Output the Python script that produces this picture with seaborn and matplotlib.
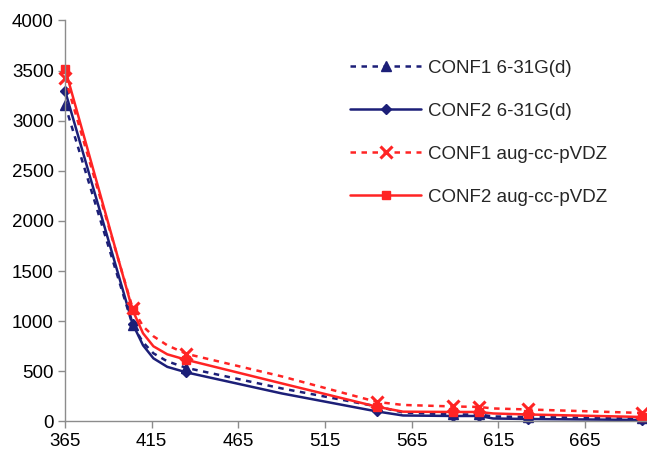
import matplotlib
matplotlib.use("Agg")
import matplotlib.pyplot as plt
import seaborn as sns
import pandas as pd

# Wavelength grid shared by all four curves (nm)
wavelength = [365, 404, 410, 416, 424, 435, 490, 545, 560, 589, 604, 612, 632, 698]
# Indices of the grid points that carry a marker
marked = [0, 1, 5, 7, 9, 10, 12, 13]

conf1_631g = [3160, 960, 790, 680, 600, 535, 330, 150, 90, 70, 70, 50, 45, 30]
conf2_631g = [3300, 975, 760, 630, 545, 490, 280, 100, 60, 55, 55, 30, 25, 15]
conf1_aug = [3430, 1130, 950, 850, 760, 675, 450, 195, 165, 150, 145, 130, 120, 85]
conf2_aug = [3520, 1110, 880, 750, 670, 615, 380, 147, 98, 95, 95, 80, 70, 45]

labels = ["CONF1 6-31G(d)", "CONF2 6-31G(d)", "CONF1 aug-cc-pVDZ", "CONF2 aug-cc-pVDZ"]
x_ticks = [365, 415, 465, 515, 565, 615, 665]
y_ticks = [0, 500, 1000, 1500, 2000, 2500, 3000, 3500, 4000]

navy = "#1C1F78"
red = "#FF2424"
dotted = (0, (2.2, 2.2))

sns.set_style("ticks")
plt.rcParams["font.family"] = ["Liberation Sans", "DejaVu Sans"]

fig = plt.figure(figsize=(6.47, 4.57), dpi=100)
ax = fig.add_axes([0.1005, 0.0777, 0.8975, 0.8775])

series = [
    (conf1_631g, navy, dotted, "^", 7.5, 1.0),
    (conf2_631g, navy, "-", "D", 5.5, 1.0),
    (conf1_aug, red, dotted, "x", 9, 2.2),
    (conf2_aug, red, "-", "s", 5.5, 1.0),
]
for (vals, col, ls, mk, ms, mew), lab in zip(series, labels):
    df = pd.DataFrame({"wavelength": wavelength, "value": vals})
    sns.lineplot(data=df, x="wavelength", y="value", ax=ax, color=col,
                 linestyle=ls, linewidth=1.8, marker=mk, markersize=ms,
                 markeredgewidth=mew, markeredgecolor=col, markerfacecolor=col,
                 markevery=marked, clip_on=False, label=lab, sort=False)

ax.set_xlim(365, 700)
ax.set_ylim(0, 4000)
ax.set_xticks(x_ticks)
ax.set_yticks(y_ticks)
ax.set_xlabel("")
ax.set_ylabel("")
for side in ["top", "right"]:
    ax.spines[side].set_visible(False)
for side in ["left", "bottom"]:
    ax.spines[side].set_color("#8C8C8C")
    ax.spines[side].set_linewidth(1.0)
ax.tick_params(axis="both", colors="#8C8C8C", labelcolor="black",
               labelsize=13.5, length=5, width=1.0, direction="out", pad=3)

leg = ax.legend(loc="center left", bbox_to_anchor=(0.515, 0.709),
                bbox_transform=fig.transFigure, frameon=False,
                fontsize=13.5, handlelength=3.8, handletextpad=0.35,
                labelspacing=1.38, borderpad=0.4)

fig.savefig("out.png", dpi=100)
